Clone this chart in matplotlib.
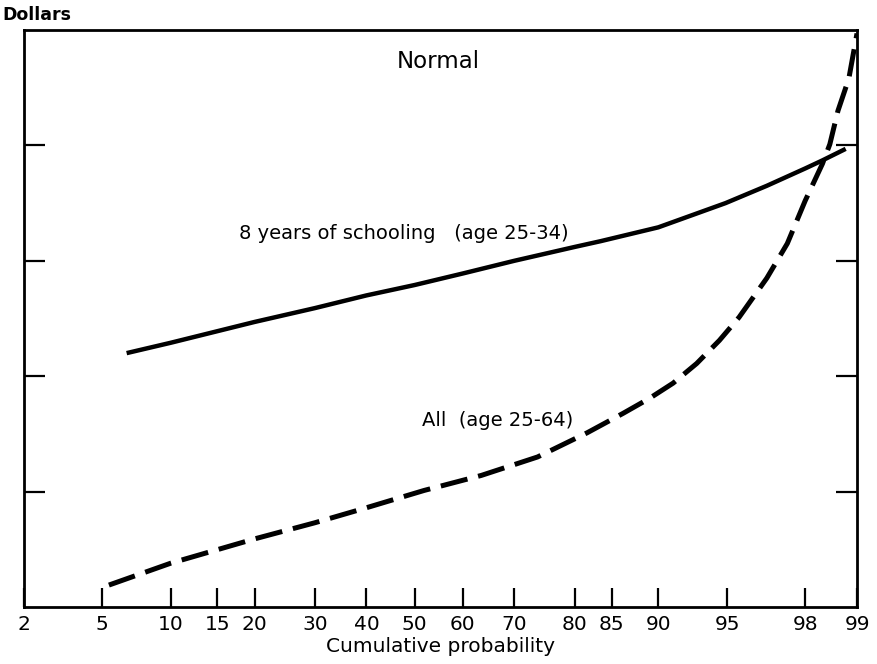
import matplotlib
matplotlib.use("Agg")
import numpy as np
import matplotlib.pyplot as plt
from statistics import NormalDist

# cumulative probability (percent) and dollar level (axis units, unlabeled)
school_prob = [6.5, 10, 20, 30, 40, 50, 60, 70, 80, 83.6, 90, 94.9, 96.8, 98.0, 98.4, 98.83]
school_vals = [2.20, 2.29, 2.47, 2.59, 2.70, 2.79, 2.89, 3.00, 3.12, 3.17, 3.29, 3.50, 3.65, 3.80, 3.87, 3.97]

all_prob = [5.4, 10, 20, 30, 40, 52, 63.7, 74.1, 81.8, 86.4, 89.2, 91.3, 93.1, 94.55, 95.6,
            96.8, 97.5, 98.0, 98.4, 98.55, 98.7, 98.88, 99.0]
all_vals = [0.19, 0.38, 0.59, 0.73, 0.86, 1.01, 1.14, 1.30, 1.51, 1.68, 1.81, 1.94, 2.11, 2.31, 2.51,
            2.85, 3.15, 3.52, 3.84, 4.01, 4.30, 4.58, 4.97]

prob_ticks = [2, 5, 10, 15, 20, 30, 40, 50, 60, 70, 80, 85, 90, 95, 98, 99]
dollar_ticks = [1, 2, 3, 4]

nd = NormalDist()
_ppf = np.vectorize(lambda v: nd.inv_cdf(v / 100.0), otypes=[float])
_cdf = np.vectorize(lambda v: nd.cdf(v) * 100.0, otypes=[float])


def fwd(p):
    p = np.clip(np.asarray(p, dtype=float), 1e-6, 100 - 1e-6)
    return _ppf(p)


def inv(z):
    return _cdf(np.asarray(z, dtype=float))


plt.rcParams["font.family"] = ["DejaVu Sans"]

fig = plt.figure(figsize=(8.78, 6.64), dpi=100)
ax = fig.add_axes([24 / 878, 57 / 664, 833 / 878, 577 / 664])

ax.set_xscale("function", functions=(fwd, inv))
ax.plot(school_prob, school_vals, color="black", lw=3.2, solid_capstyle="butt")
ax.plot(all_prob, all_vals, color="black", lw=3.6, dashes=(5.5, 2.2))

ax.set_xlim(2, 99)
ax.set_ylim(0, 5)
ax.set_xticks(prob_ticks)
ax.set_xticklabels([str(t) for t in prob_ticks], fontsize=14.5)
ax.minorticks_off()
ax.set_yticks(dollar_ticks)
ax.set_yticklabels([])
ax.tick_params(axis="x", direction="in", length=14, width=1.6, pad=6)
ax.tick_params(axis="y", direction="in", length=15, width=1.6, left=True, right=True)
for s in ax.spines.values():
    s.set_linewidth(2.0)

ax.set_xlabel("Cumulative probability", fontsize=14.5, labelpad=2)
fig.text(2 / 878, 1 - 15 / 664, "Dollars", fontsize=12.5, fontweight="bold", va="center", ha="left")

ax.text(0.497, 0.945, "Normal", transform=ax.transAxes, fontsize=16.5, ha="center", va="center")
ax.text(0.456, 0.648, "8 years of schooling   (age 25-34)", transform=ax.transAxes,
        fontsize=14, ha="center", va="center")
ax.text(0.569, 0.324, "All  (age 25-64)", transform=ax.transAxes,
        fontsize=14, ha="center", va="center")

fig.savefig("out.png", dpi=100)
